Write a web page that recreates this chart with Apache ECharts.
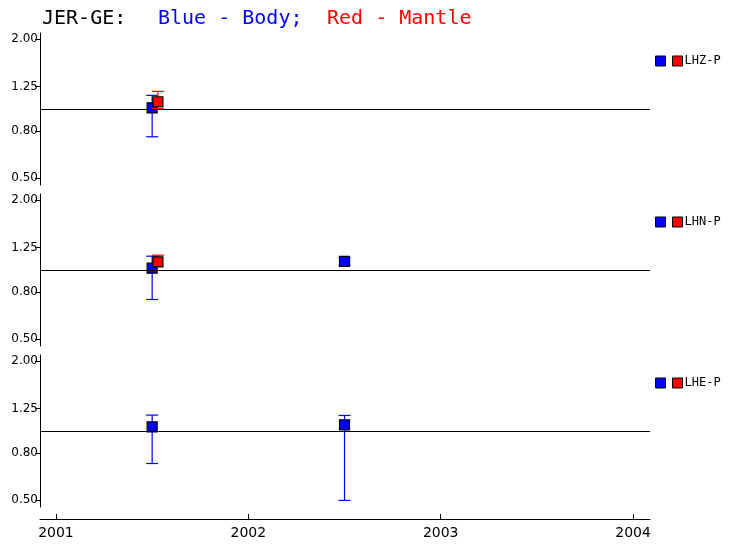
<!DOCTYPE html>
<html>
<head>
<meta charset="utf-8">
<script src="https://cdn.jsdelivr.net/npm/echarts@6/dist/echarts.min.js"></script>
<style>html,body{margin:0;padding:0;background:#fff}#c{width:733px;height:551px}</style>
</head>
<body>
<div id="c"></div>
<script>
// ---- data ----
const panelNames = ['LHZ-P', 'LHN-P', 'LHE-P'];
const yTicks = [0.5, 0.8, 1.25, 2.0];
const xTicks = [2001, 2002, 2003, 2004];
const bodyDates  = [[2001.50], [2001.50, 2002.50], [2001.50, 2002.50]];
const bodyValues = [[1.01], [1.017, 1.088], [1.04, 1.062]];
const bodyLow    = [[0.757], [0.744, 1.05], [0.722, 0.50]];
const bodyHigh   = [[1.144], [1.146, 1.13], [1.17, 1.166]];
const mantleDates  = [[2001.53], [2001.53], []];
const mantleValues = [[1.073], [1.082], []];
const mantleLow    = [[1.005], [1.058], []];
const mantleHigh   = [[1.19], [1.157], []];

const BLUE = '#0000ff', RED = '#ff0000';
const panelTops = [33, 194, 355];
const panelH = 152;
const yMin = 0.468, yMax = 2.13;

function errRender(color) {
  return function (params, api) {
    const x = api.value(0), lo = api.value(1), hi = api.value(2);
    const pLo = api.coord([x, lo]), pHi = api.coord([x, hi]);
    const cw = 6;
    const st = { stroke: color, lineWidth: 1.2 };
    return {
      type: 'group',
      children: [
        { type: 'line', shape: { x1: pLo[0], y1: pLo[1], x2: pHi[0], y2: pHi[1] }, style: st },
        { type: 'line', shape: { x1: pLo[0] - cw, y1: pLo[1], x2: pLo[0] + cw, y2: pLo[1] }, style: st },
        { type: 'line', shape: { x1: pHi[0] - cw, y1: pHi[1], x2: pHi[0] + cw, y2: pHi[1] }, style: st }
      ]
    };
  };
}

const grids = [], xAxes = [], yAxes = [], series = [], legends = [];
panelNames.forEach((name, i) => {
  const last = i === panelNames.length - 1;
  grids.push({ left: 40, width: 610, top: panelTops[i], height: panelH });
  xAxes.push({
    type: 'value', gridIndex: i, min: 2000.917, max: 2004.088,
    show: last, position: 'bottom', offset: 12,
    axisLine: { show: true, lineStyle: { color: '#000', width: 1 } },
    axisTick: { show: true, inside: true, length: 5, lineStyle: { color: '#000' }, customValues: xTicks },
    axisLabel: { show: true, color: '#000', fontFamily: 'DejaVu Sans', fontSize: 14, margin: 7,
                 customValues: xTicks, formatter: v => String(Math.round(v)) },
    splitLine: { show: false }
  });
  yAxes.push({
    type: 'log', logBase: 2, gridIndex: i, min: yMin, max: yMax,
    axisLine: { show: true, lineStyle: { color: '#000', width: 1 } },
    axisTick: { show: true, length: 5, lineStyle: { color: '#000' }, customValues: yTicks },
    axisLabel: { color: '#000', fontFamily: 'DejaVu Sans', fontSize: 12, margin: 2,
                 customValues: yTicks, formatter: v => Number(v).toFixed(2) },
    splitLine: { show: false }
  });
  series.push({
    type: 'custom', name: name + ' Body err', xAxisIndex: i, yAxisIndex: i, z: 2,
    renderItem: errRender(BLUE), encode: { x: 0, y: [1, 2] }, silent: true,
    data: bodyDates[i].map((d, k) => [d, bodyLow[i][k], bodyHigh[i][k]]),
    markLine: { silent: true, symbol: 'none', label: { show: false },
      lineStyle: { color: '#000', width: 1.2, type: 'solid' }, data: [{ yAxis: 1 }] }
  });
  series.push({
    type: 'scatter', name: name + ' Body', xAxisIndex: i, yAxisIndex: i, z: 3,
    symbol: 'rect', symbolSize: 10,
    itemStyle: { color: BLUE, borderColor: '#000', borderWidth: 1.2, opacity: 1 },
    data: bodyDates[i].map((d, k) => [d, bodyValues[i][k]])
  });
  series.push({
    type: 'custom', name: name + ' Mantle err', xAxisIndex: i, yAxisIndex: i, z: 4,
    renderItem: errRender(RED), encode: { x: 0, y: [1, 2] }, silent: true,
    data: mantleDates[i].map((d, k) => [d, mantleLow[i][k], mantleHigh[i][k]])
  });
  series.push({
    type: 'scatter', name: name + ' Mantle', xAxisIndex: i, yAxisIndex: i, z: 5,
    symbol: 'rect', symbolSize: 10,
    itemStyle: { color: RED, borderColor: '#000', borderWidth: 1.2, opacity: 1 },
    data: mantleDates[i].map((d, k) => [d, mantleValues[i][k]])
  });
  legends.push({
    left: 655, top: panelTops[i] + 22, padding: 0, orient: 'horizontal', selectedMode: false,
    itemWidth: 10, itemHeight: 10, itemGap: 6, icon: 'rect',
    itemStyle: { borderColor: '#000', borderWidth: 1 },
    textStyle: { color: '#000', fontFamily: 'DejaVu Sans Mono', fontSize: 12, padding: [0, 0, 0, -3] },
    data: [name + ' Body', name + ' Mantle'],
    formatter: n => n.endsWith('Mantle') ? n.split(' ')[0] : ''
  });
});

const titleFont = { fontFamily: 'DejaVu Sans Mono', fontSize: 20, fontWeight: 'normal' };
const chart = echarts.init(document.getElementById('c'), null, { renderer: 'canvas' });
chart.setOption({
  animation: false,
  backgroundColor: '#fff',
  title: [
    { text: 'JER-GE:', left: 42, top: 9, padding: 0, textStyle: Object.assign({ color: '#000' }, titleFont) },
    { text: 'Blue - Body;', left: 158, top: 9, padding: 0, textStyle: Object.assign({ color: BLUE }, titleFont) },
    { text: 'Red - Mantle', left: 327, top: 9, padding: 0, textStyle: Object.assign({ color: RED }, titleFont) }
  ],
  legend: legends,
  grid: grids,
  xAxis: xAxes,
  yAxis: yAxes,
  series: series
});
</script>
</body>
</html>
